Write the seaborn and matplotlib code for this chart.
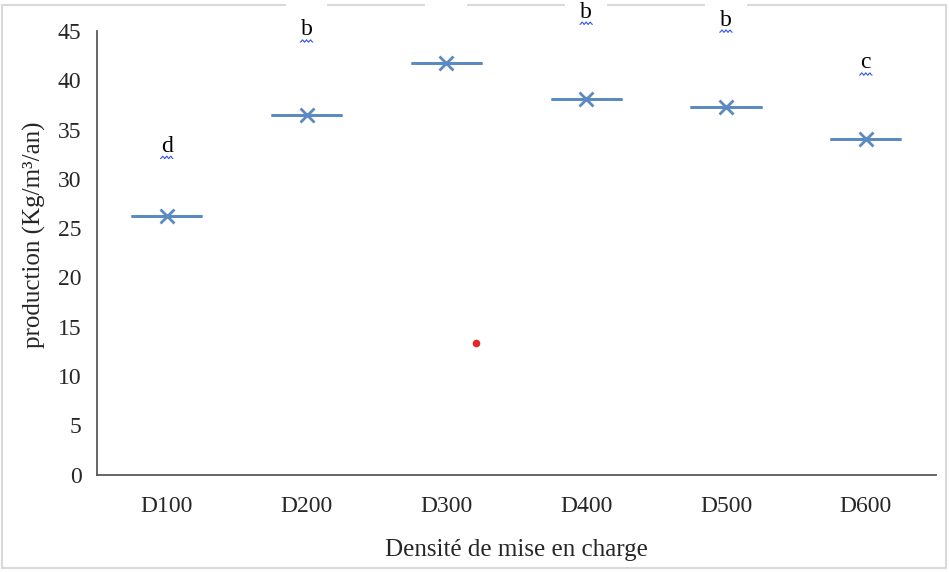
import numpy as np
import pandas as pd
import matplotlib
matplotlib.use("Agg")
import matplotlib.pyplot as plt
import matplotlib.transforms as mtransforms
from matplotlib.patches import Rectangle
import seaborn as sns

# data
densities = ["D100", "D200", "D300", "D400", "D500", "D600"]
production = [26.25, 36.5, 41.75, 38.1, 37.3, 34.05]
letters = ["d", "b", "", "b", "b", "c"]
letter_y = [33.3, 45.1, 47.5, 46.9, 46.1, 41.75]
outlier_pos = [2.21]
outlier_val = [13.4]

sns.set_style("white")
plt.rcParams["font.family"] = ["Liberation Serif", "DejaVu Serif"]

df = pd.DataFrame({"densite": densities, "production": production})

fig = plt.figure(figsize=(9.49, 5.72), dpi=100)
ax = fig.add_axes([0.102, 0.170, 0.884, 0.776])

blue = "#5B8AC2"
sns.boxplot(data=df, x="densite", y="production", ax=ax, width=0.51,
            color=blue, linecolor=blue, linewidth=2, showcaps=False,
            whis=0, fliersize=0, showmeans=True,
            meanprops=dict(marker="x", markeredgecolor=blue, markersize=10,
                           markeredgewidth=2))

# stray point
ax.scatter(outlier_pos, outlier_val, s=30, color="#E8262A", zorder=5, linewidths=0)

# letters
for i, (lab, yv) in enumerate(zip(letters, letter_y)):
    if not lab:
        continue
    ax.text(i, yv, lab, ha="center", va="center", fontsize=17, color="black",
            clip_on=False, zorder=6)
    # spell-check underline
    tr = mtransforms.Affine2D().scale(fig.dpi / 72) + \
        mtransforms.ScaledTranslation(i, yv, ax.transData)
    xs = np.linspace(-4.5, 4.5, 13)
    ys = -8.0 + 0.9 * np.cos(xs * 2.2)
    ax.plot(xs, ys, transform=tr, color="#3355DD", lw=0.8, clip_on=False)

ax.set_ylim(0, 45)
ax.set_xlim(-0.5, 5.5)
ax.set_yticks(range(0, 46, 5))
ax.tick_params(axis="both", length=0, labelsize=17)
ax.tick_params(axis="y", pad=11)
ax.tick_params(axis="x", pad=15)
ax.set_xlabel("Densité de mise en charge", fontsize=18, labelpad=16)
ax.set_ylabel("production (Kg/m³/an)", fontsize=18)
ax.yaxis.set_label_coords(-0.060, 0.54)

for s in ["top", "right"]:
    ax.spines[s].set_visible(False)
for s in ["left", "bottom"]:
    ax.spines[s].set_color("#595959")
    ax.spines[s].set_linewidth(1.3)

# outer frame, drawn first so the letter boxes can break its top edge
fig.patches.append(Rectangle((0.002, 0.007), 0.995, 0.984, transform=fig.transFigure,
                             fill=False, edgecolor="#D9D9D9", lw=1.5, zorder=-1))
gap_tr = mtransforms.blended_transform_factory(ax.transData, fig.transFigure)
for i, lab in enumerate(letters):
    if i == 0 or i == 5:
        continue
    ax.add_patch(Rectangle((i - 0.15, 0.975), 0.30, 0.03, transform=gap_tr,
                           facecolor="white", edgecolor="none", clip_on=False, zorder=1))

fig.savefig("out.png", dpi=100)
